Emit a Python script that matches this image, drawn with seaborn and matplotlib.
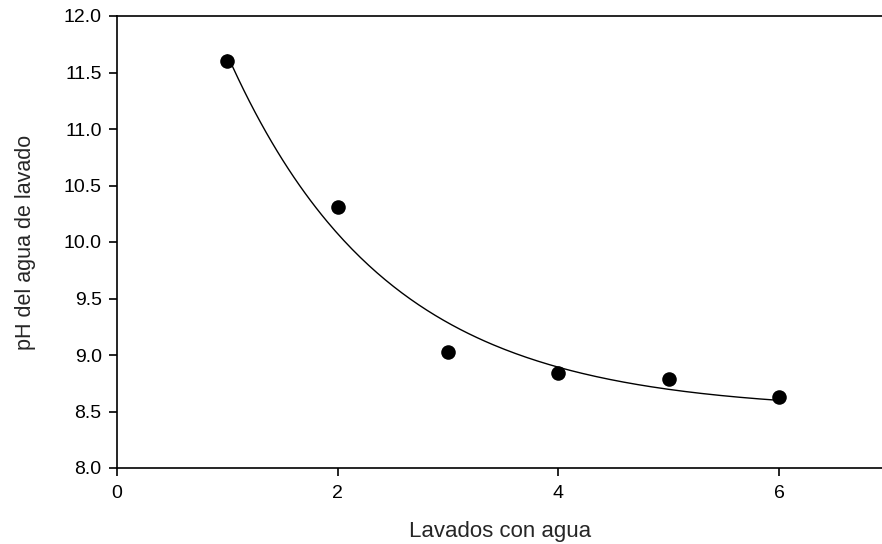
import numpy as np
import pandas as pd
import matplotlib
matplotlib.use("Agg")
import matplotlib.pyplot as plt
import seaborn as sns

lavados = [1, 2, 3, 4, 5, 6]
ph = [11.60, 10.31, 9.03, 8.84, 8.79, 8.63]
x_ticks = [0, 2, 4, 6]
y_ticks = [8.0, 8.5, 9.0, 9.5, 10.0, 10.5, 11.0, 11.5, 12.0]

sns.set_style("ticks")
plt.rcParams['font.family'] = ['Liberation Sans', 'DejaVu Sans']

# exponential decay fit y = y0 + a*exp(-b*x), least squares
xs = np.array(lavados, float)
ys = np.array(ph, float)
best = None
for b in np.linspace(0.05, 3, 2000):
    A = np.column_stack([np.ones_like(xs), np.exp(-b * xs)])
    coef, *_ = np.linalg.lstsq(A, ys, rcond=None)
    err = np.sum((A @ coef - ys) ** 2)
    if best is None or err < best[0]:
        best = (err, b, coef)
_, b, (y0, a) = best
xf = np.linspace(1, 6, 200)
fit = pd.DataFrame({"x": xf, "y": y0 + a * np.exp(-b * xf)})
df = pd.DataFrame({"x": lavados, "y": ph})

fig = plt.figure(figsize=(8.82, 5.44), dpi=100)
ax = fig.add_axes([117/882, 1 - 468/544, 1 - 117/882 + 0.001, (468 - 16)/544])
sns.lineplot(data=fit, x="x", y="y", ax=ax, color="black", linewidth=1.0)
sns.scatterplot(data=df, x="x", y="y", ax=ax, color="black", s=110, edgecolor="black", linewidth=0, zorder=3)

ax.set_xlim(0, 765/110.2)
ax.set_ylim(8.0, 12.0)
ax.set_xticks(x_ticks)
ax.set_xticklabels([str(t) for t in x_ticks])
ax.set_yticks(y_ticks)
ax.set_yticklabels([f"{t:.1f}" for t in y_ticks])
ax.spines['right'].set_visible(False)
for s in ['left', 'bottom', 'top']:
    ax.spines[s].set_linewidth(1.2)
    ax.spines[s].set_color('black')
ax.tick_params(axis='both', direction='out', length=6, width=1.2, labelsize=14, colors='black', pad=5)
ax.tick_params(axis='x', pad=6)
ax.set_xlabel("Lavados con agua", fontsize=16, labelpad=14)
ax.set_ylabel("pH del agua de lavado", fontsize=15.5, labelpad=20)

fig.savefig("out.png", dpi=100)
